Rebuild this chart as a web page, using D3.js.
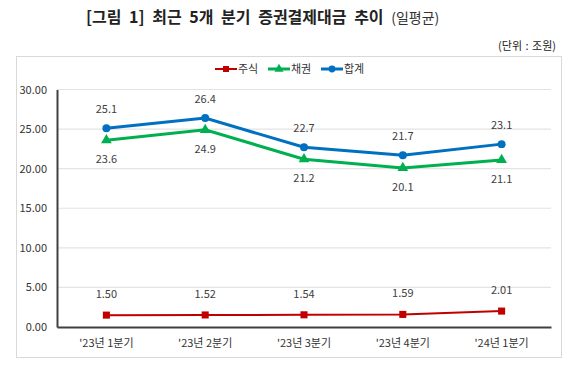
<!DOCTYPE html>
<html>
<head>
<meta charset="utf-8">
<script src="https://cdn.jsdelivr.net/npm/d3@7"></script>
<style>
  body { margin: 0; background: #fff; }
  text { font-family: "Noto Sans CJK KR", "Noto Sans", sans-serif; }
</style>
</head>
<body>
<div id="main"></div>
<script>
// data
var quarters = ["'23년 1분기", "'23년 2분기", "'23년 3분기", "'23년 4분기", "'24년 1분기"];
var stock = [1.50, 1.52, 1.54, 1.59, 2.01];
var bond = [23.6, 24.9, 21.2, 20.1, 21.1];
var total = [25.1, 26.4, 22.7, 21.7, 23.1];
var yTicks = [0, 5, 10, 15, 20, 25, 30];

var W = 580, H = 366;
var m = {left: 57, right: 551, top: 89.5, bottom: 327};

var svg = d3.select('#main').append('svg').attr('width', W).attr('height', H);

// title
var title = svg.append('text').attr('x', 86).attr('y', 23)
  .attr('fill', '#222').attr('word-spacing', 4);
title.append('tspan').attr('font-size', 16).attr('font-weight', 'bold')
  .text('[그림 1] 최근 5개 분기 증권결제대금 추이 ');
title.append('tspan').attr('font-size', 14).attr('fill', '#333').text('(일평균)');

svg.append('text').attr('x', 556).attr('y', 50).attr('text-anchor', 'end')
  .attr('font-size', 11).attr('fill', '#222').attr('word-spacing', 1).text('(단위 : 조원)');

// chart frame
svg.append('rect').attr('x', 16.5).attr('y', 56.5).attr('width', 545).attr('height', 301)
  .attr('fill', 'none').attr('stroke', '#d9d9d9');

var x = d3.scaleBand().domain(quarters).range([m.left, m.right]);
var y = d3.scaleLinear().domain([0, 30]).range([m.bottom, m.top]);
function cx(d, i) { return x(quarters[i]) + x.bandwidth() / 2; }

// grid
svg.append('g').selectAll('line').data(yTicks.slice(1)).enter().append('line')
  .attr('x1', m.left).attr('x2', m.right)
  .attr('y1', function(d) { return y(d); }).attr('y2', function(d) { return y(d); })
  .attr('stroke', '#e3e3e3').attr('stroke-width', 1.2);

// y axis
var ya = svg.append('g').attr('transform', 'translate(' + m.left + ',0)')
  .call(d3.axisLeft(y).tickValues(yTicks).tickFormat(d3.format('.2f')).tickSize(0).tickPadding(10));
ya.select('.domain').attr('stroke', '#404040').attr('stroke-width', 2);
ya.selectAll('text').attr('font-size', 11).attr('fill', '#333')
  .style('font-family', '"Noto Sans CJK KR", sans-serif');

// x axis
var xa = svg.append('g').attr('transform', 'translate(0,' + m.bottom + ')')
  .call(d3.axisBottom(x).tickSize(0).tickPadding(12));
xa.select('.domain').attr('stroke', '#404040').attr('stroke-width', 2);
xa.selectAll('text').attr('font-size', 11).attr('fill', '#333')
  .style('font-family', '"Noto Sans CJK KR", sans-serif');

var series = [
  {name: '주식', values: stock, color: '#c00000', width: 2, sym: d3.symbolSquare, size: 50, fmt: d3.format('.2f'), dy: -17},
  {name: '채권', values: bond, color: '#00b050', width: 3, sym: d3.symbolTriangle, size: 50, fmt: d3.format('.1f'), dy: 23},
  {name: '합계', values: total, color: '#0070c0', width: 3, sym: d3.symbolCircle, size: 50, fmt: d3.format('.1f'), dy: -15}
];

var line = d3.line().x(cx).y(function(d) { return y(d); });

series.forEach(function(s) {
  var g = svg.append('g');
  g.append('path').datum(s.values).attr('d', line)
    .attr('fill', 'none').attr('stroke', s.color).attr('stroke-width', s.width);
  g.selectAll('path.mk').data(s.values).enter().append('path').attr('class', 'mk')
    .attr('d', d3.symbol().type(s.sym).size(s.size))
    .attr('transform', function(d, i) { return 'translate(' + cx(d, i) + ',' + y(d) + ')'; })
    .attr('fill', s.color);
  g.selectAll('text').data(s.values).enter().append('text')
    .attr('x', cx).attr('y', function(d) { return y(d) + s.dy; })
    .attr('text-anchor', 'middle').attr('font-size', 11).attr('fill', '#404040')
    .text(s.fmt);
});

// legend
var lg = svg.append('g').attr('transform', 'translate(215,69)');
series.forEach(function(s, i) {
  var g = lg.append('g').attr('transform', 'translate(' + (i * 53) + ',0)');
  g.append('line').attr('x1', 0).attr('x2', 22).attr('stroke', s.color).attr('stroke-width', s.width);
  g.append('path').attr('d', d3.symbol().type(s.sym).size(36)).attr('transform', 'translate(11,0)').attr('fill', s.color);
  g.append('text').attr('x', 23).attr('y', 4).attr('font-size', 11).attr('fill', '#333').text(s.name);
});
</script>
</body>
</html>
